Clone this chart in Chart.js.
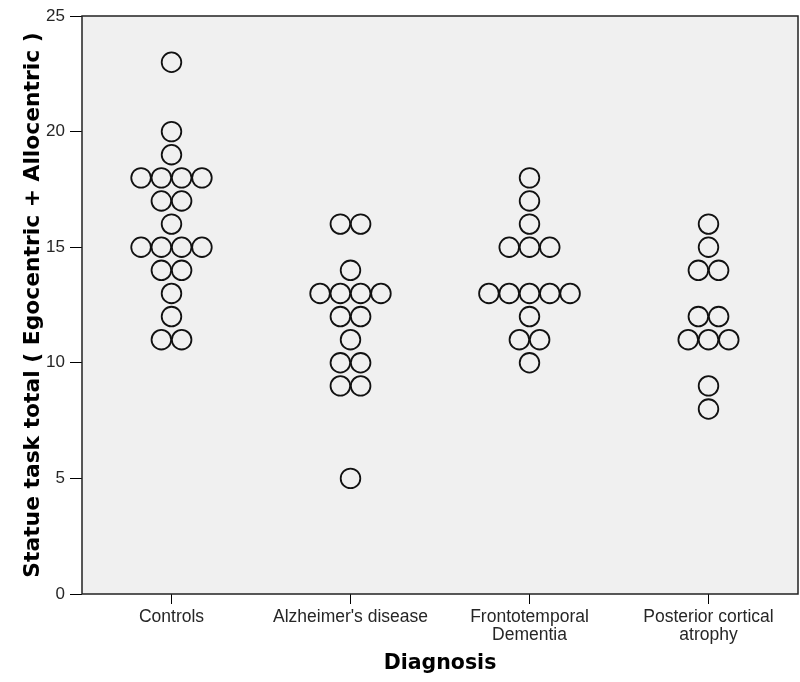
<!DOCTYPE html>
<html>
<head>
<meta charset="utf-8">
<script src="https://cdn.jsdelivr.net/npm/chart.js@4/dist/chart.umd.min.js"></script>
<style>
  html, body { margin: 0; padding: 0; background: #fff; }
  #wrap { width: 800px; height: 682px; }
</style>
</head>
<body>
<div id="wrap"><canvas id="chart"></canvas></div>
<script>
// categories on the x axis
const categories = ["Controls", "Alzheimer's disease", ["Frontotemporal", "Dementia"], ["Posterior cortical", "atrophy"]];

// statue task scores, one array per diagnosis group
const controls = [23, 20, 19, 18, 18, 18, 18, 17, 17, 16, 15, 15, 15, 15, 14, 14, 13, 12, 11, 11];
const alzheimers = [16, 16, 14, 13, 13, 13, 13, 12, 12, 11, 10, 10, 9, 9, 5];
const frontotemporal = [18, 17, 16, 15, 15, 15, 13, 13, 13, 13, 13, 12, 11, 11, 10];
const posteriorCortical = [16, 15, 14, 14, 12, 12, 11, 11, 11, 9, 8];

const groups = [controls, alzheimers, frontotemporal, posteriorCortical];
const yTicks = [0, 5, 10, 15, 20, 25];

// horizontal spread of tied values, in category units
const DOT_STEP = 0.1134;

// stack equal scores side by side, centred on the category
function dotPoints(values, catIndex) {
  const counts = {};
  values.forEach(v => { counts[v] = (counts[v] || 0) + 1; });
  const seen = {};
  return values.map(v => {
    const n = counts[v];
    const j = seen[v] || 0;
    seen[v] = j + 1;
    return { x: catIndex + (j - (n - 1) / 2) * DOT_STEP, y: v };
  });
}

const points = [];
groups.forEach((g, i) => points.push(...dotPoints(g, i)));

// grey plot area plus a frame around it
const plotFrame = {
  id: 'plotFrame',
  beforeDatasetsDraw(chart) {
    const { ctx, chartArea: a } = chart;
    ctx.save();
    ctx.fillStyle = '#f0f0f0';
    ctx.fillRect(a.left, a.top, a.right - a.left, a.bottom - a.top);
    ctx.restore();
  },
  afterDatasetsDraw(chart) {
    const { ctx, chartArea: a } = chart;
    ctx.save();
    ctx.strokeStyle = '#222';
    ctx.lineWidth = 1.5;
    ctx.strokeRect(a.left, a.top, a.right - a.left, a.bottom - a.top);
    ctx.restore();
  }
};

new Chart(document.getElementById('chart'), {
  type: 'scatter',
  data: {
    datasets: [{
      data: points,
      pointRadius: 9.8,
      pointHoverRadius: 9.8,
      pointBackgroundColor: 'rgba(0,0,0,0)',
      pointBorderColor: '#111',
      pointBorderWidth: 1.8
    }]
  },
  options: {
    responsive: true,
    maintainAspectRatio: false,
    animation: false,
    layout: { autoPadding: false, padding: { top: 16, right: 2, left: 0, bottom: 0 } },
    plugins: {
      legend: { display: false },
      tooltip: { enabled: false }
    },
    scales: {
      x: {
        type: 'linear',
        min: -0.5,
        max: 3.5,
        afterBuildTicks: s => { s.ticks = categories.map((c, i) => ({ value: i })); },
        afterFit: s => { s.height = 88; s.paddingLeft = 0; s.paddingRight = 0; },
        border: { display: false },
        grid: { drawOnChartArea: false, drawTicks: true, tickLength: 10, color: '#000', lineWidth: 1 },
        ticks: {
          callback: v => categories[v],
          maxRotation: 0,
          autoSkip: false,
          padding: 4,
          color: '#262626',
          font: { family: 'Liberation Sans, Arial, sans-serif', size: 17.5, lineHeight: 1.03 }
        },
        title: {
          display: true,
          text: 'Diagnosis',
          color: '#000',
          padding: { top: 0, bottom: 6 },
          font: { family: 'DejaVu Sans', size: 20.5, weight: 'bold', lineHeight: 1.2 }
        }
      },
      y: {
        min: 0,
        max: 25,
        afterBuildTicks: s => { s.ticks = yTicks.map(v => ({ value: v })); },
        afterFit: s => { s.width = 82; },
        border: { display: false },
        grid: { drawOnChartArea: false, drawTicks: true, tickLength: 12, color: '#000', lineWidth: 1 },
        ticks: {
          padding: 5,
          color: '#262626',
          font: { family: 'Liberation Sans, Arial, sans-serif', size: 17 }
        },
        title: {
          display: true,
          text: 'Statue task total ( Egocentric + Allocentric )',
          color: '#000',
          padding: { top: 20, bottom: 0 },
          font: { family: 'DejaVu Sans', size: 21.8, weight: 'bold', lineHeight: 1.2 }
        }
      }
    }
  },
  plugins: [plotFrame]
});
</script>
</body>
</html>
